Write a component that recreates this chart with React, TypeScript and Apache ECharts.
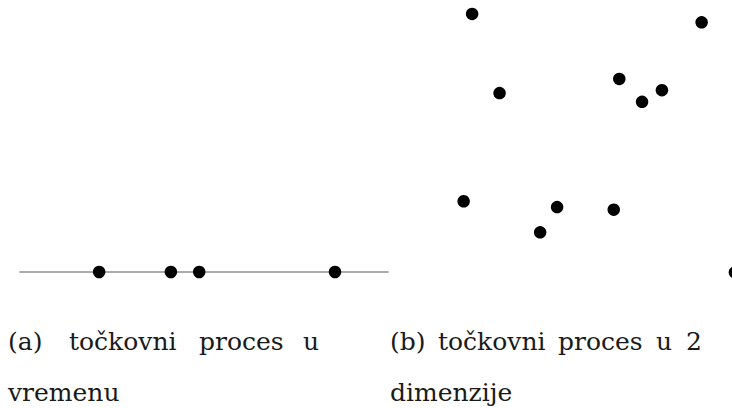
import React, { useEffect, useRef } from "react";
import * as echarts from "echarts";

// (a) point process in time: event times on a 0..10 time line
const timeEvents: number[] = [2.15, 4.1, 4.87, 8.56];

// (b) point process in 2 dimensions: coordinates in a 0..10 square
const planeX: number[] = [1.1, 8.96, 6.14, 2.04, 7.6, 6.92, 0.81, 4.01, 5.95, 3.43, 10.1];
const planeY: number[] = [9.52, 9.23, 7.28, 6.79, 6.89, 6.49, 3.06, 2.86, 2.77, 1.99, 0.61];

// captions (words are placed individually to mimic justified LaTeX text)
const captionA: string[] = ["(a)", "točkovni", "proces", "u"];
const captionA2 = "vremenu";
const captionB: string[] = ["(b)", "točkovni", "proces", "u", "2"];
const captionB2 = "dimenzije";

// layout only
const captionAX = [8, 69, 199, 303];
const captionBX = [390, 438, 558, 656, 686];
const LINE1_TOP = 329;
const LINE2_TOP = 380;
const FONT_FAMILY = "DejaVu Serif";
const FONT_SIZE = 25;

export default function App() {
  const ref = useRef<HTMLDivElement>(null);

  useEffect(() => {
    if (!ref.current) return;
    const chart = echarts.init(ref.current, undefined, { renderer: "svg" });

    const word = (text: string, x: number, y: number) => ({
      text,
      left: x,
      top: y,
      padding: 0,
      itemGap: 0,
      textStyle: {
        color: "#1a1a1a",
        fontFamily: FONT_FAMILY,
        fontSize: FONT_SIZE,
        fontWeight: "normal",
        lineHeight: FONT_SIZE,
      },
    });

    const titles: any[] = [];
    captionA.forEach((w, i) => titles.push(word(w, captionAX[i], LINE1_TOP)));
    titles.push(word(captionA2, 8, LINE2_TOP));
    captionB.forEach((w, i) => titles.push(word(w, captionBX[i], LINE1_TOP)));
    titles.push(word(captionB2, 390, LINE2_TOP));

    const hiddenAxis = {
      show: true,
      axisLine: { show: false },
      axisTick: { show: false },
      axisLabel: { show: false },
      splitLine: { show: false },
    };

    chart.setOption({
      animation: false,
      backgroundColor: "#ffffff",
      title: titles,
      grid: [
        { left: 20, top: 262, width: 368, height: 20 },
        { left: 440, top: 0, right: 0, height: 290 },
      ],
      xAxis: [
        {
          gridIndex: 0,
          type: "value",
          min: 0,
          max: 10,
          axisLine: { show: true, onZero: true, lineStyle: { color: "#8e8e8e", width: 1.6 } },
          axisTick: { show: false },
          axisLabel: { show: false },
          splitLine: { show: false },
        },
        { gridIndex: 1, type: "value", min: 0, max: 10, ...hiddenAxis },
      ],
      yAxis: [
        { gridIndex: 0, type: "value", min: -1, max: 1, ...hiddenAxis },
        { gridIndex: 1, type: "value", min: 0, max: 10, ...hiddenAxis },
      ],
      series: [
        {
          type: "scatter",
          xAxisIndex: 0,
          yAxisIndex: 0,
          symbol: "circle",
          symbolSize: 12.5,
          itemStyle: { color: "#000", opacity: 1 },
          data: timeEvents.map((t) => [t, 0]),
          z: 5,
        },
        {
          type: "scatter",
          xAxisIndex: 1,
          yAxisIndex: 1,
          symbol: "circle",
          symbolSize: 12.5,
          clip: false,
          itemStyle: { color: "#000", opacity: 1 },
          data: planeX.map((x, i) => [x, planeY[i]]),
          z: 5,
        },
      ],
    });

    return () => chart.dispose();
  }, []);

  return (
    <div
      ref={ref}
      style={{ position: "absolute", left: 0, top: 0, width: 732, height: 408, background: "#fff" }}
    />
  );
}
